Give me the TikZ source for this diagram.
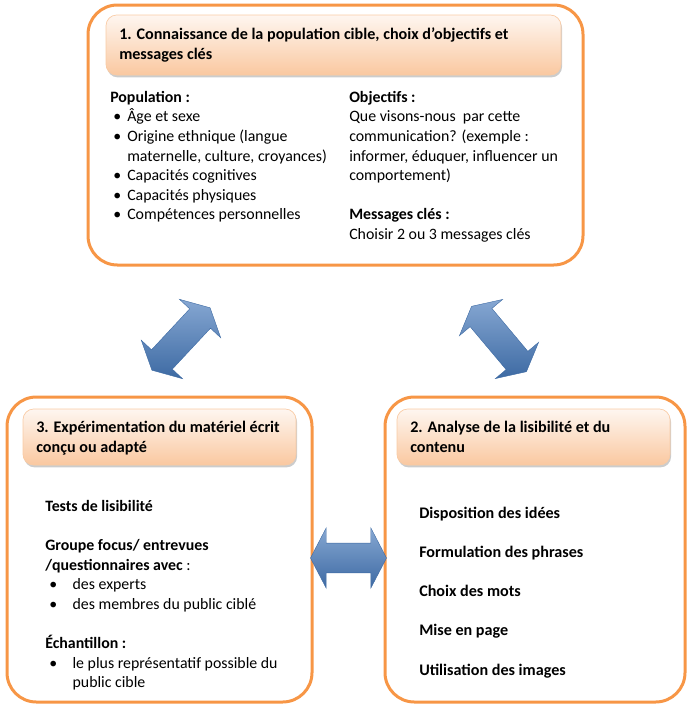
\documentclass[tikz,border=0pt]{standalone}
\usepackage{fontspec}
\setmainfont{Carlito}
\usepackage{tikz}
\usetikzlibrary{positioning, calc, shapes.arrows, shadows}

\definecolor{boxorange}{HTML}{F79646}
\definecolor{headline}{HTML}{F9CBA5}
\definecolor{headtop}{HTML}{FEF6F0}
\definecolor{headbot}{HTML}{FAC8A0}
\definecolor{arrowblue}{HTML}{4F81BD}
\definecolor{arrowlight}{HTML}{86A7D2}
\definecolor{arrowdark}{HTML}{3D6AA3}

\newcommand{\bul}{\makebox[12.75pt][l]{\hspace{2.25pt}\textbullet}}
\newcommand{\bulb}{\makebox[20.5pt][l]{\hspace{3pt}\textbullet}}

\begin{document}
\begin{tikzpicture}[x=0.75pt, y=-0.75pt,
    outerbox/.style={draw=boxorange, line width=2.25pt, rounded corners=22pt, inner sep=0pt},
    headbox/.style={draw=headline, line width=0.5pt, rounded corners=8pt, inner sep=0pt,
        top color=headtop, bottom color=headbot,
        drop shadow={shadow xshift=0.8pt, shadow yshift=-1.8pt, opacity=0.4}},
    txt/.style={anchor=north west, inner sep=0pt, align=left, font=\fontsize{11.9}{14.7}\selectfont},
    ttl/.style={anchor=north west, inner sep=0pt, align=left, font=\fontsize{12.1}{15.5}\selectfont\bfseries},
    dblarrow/.style={double arrow, inner xsep=0pt, inner ysep=10.5pt, minimum width=42pt, minimum height=64pt,
        double arrow head extend=10.5pt, double arrow tip angle=125,
        draw=arrowdark, line width=0.3pt,
        top color=arrowlight, middle color=arrowblue, bottom color=arrowdark}]
    \useasboundingbox (0,0) rectangle (689,707);

    % Outer boxes
    \node[outerbox, minimum width=371.25pt, minimum height=195pt] (box1) at (335.5,135) {};
    \node[outerbox, minimum width=228.75pt, minimum height=228.75pt] (box3) at (159.5,549.5) {};
    \node[outerbox, minimum width=225pt, minimum height=228.75pt] (box2) at (535,549.5) {};

    % Headers
    \node[headbox, minimum width=341.25pt, minimum height=45pt] (head1) at (333.5,45) {};
    \node[headbox, minimum width=204.75pt, minimum height=42pt] (head3) at (159.5,437) {};
    \node[headbox, minimum width=204.75pt, minimum height=42pt] (head2) at (533.5,437) {};

    % Titles
    \node[ttl] (title1) at (119,24.5) {\strut 1. Connaissance de la population cible, choix d’objectifs et\\messages clés};
    \node[ttl] (title3) at (36,417.5) {\strut 3. Expérimentation du matériel écrit\\conçu ou adapté};
    \node[ttl] (title2) at (410,417.5) {\strut 2. Analyse de la lisibilité et du\\contenu};

    % Box 1 text
    \node[txt] (pop) at (110,88.3) {\strut\textbf{Population :}\\
        \bul Âge et sexe\\
        \bul Origine ethnique (langue\\
        \hspace*{12.75pt}maternelle, culture, croyances)\\
        \bul Capacités cognitives\\
        \bul Capacités physiques\\
        \bul Compétences personnelles};
    \node[txt] (obj) at (349,88.3) {\strut\textbf{Objectifs :}\\
        Que visons-nous\ \ par cette\\
        communication? (exemple :\\
        informer, éduquer, influencer un\\
        comportement)\\[14.7pt]
        \textbf{Messages clés :}\\
        Choisir 2 ou 3 messages clés};

    % Box 3 text
    \node[txt] (tests) at (45,497.3) {\strut\textbf{Tests de lisibilité}\\[14.7pt]
        \textbf{Groupe focus/ entrevues}\\
        \textbf{/questionnaires avec} :\\
        \bulb des experts\\
        \bulb des membres du public ciblé\\[14.7pt]
        \textbf{Échantillon :}\\
        \bulb le plus représentatif possible\ du\\
        \hspace*{20.5pt}public cible};

    % Box 2 text
    \node[txt, font=\fontsize{12.1}{14.7}\selectfont\bfseries] (analyse) at (419,504.3) {\strut Disposition des idées\\[14.7pt]
        Formulation des phrases\\[14.7pt]
        Choix des mots\\[14.7pt]
        Mise en page\\[14.7pt]
        Utilisation des images};

    % Arrows between the boxes
    \node[dblarrow, rotate=47] (arr13) at (181,339) {};
    \node[dblarrow, rotate=-50] (arr12) at (499,339) {};
    \node[dblarrow, minimum width=45pt, inner ysep=11pt, double arrow head extend=11.5pt, minimum height=57pt] (arr32)
        at ($(box3.east)!0.5!(box2.west)+(0,8.5)$) {};
\end{tikzpicture}
\end{document}
